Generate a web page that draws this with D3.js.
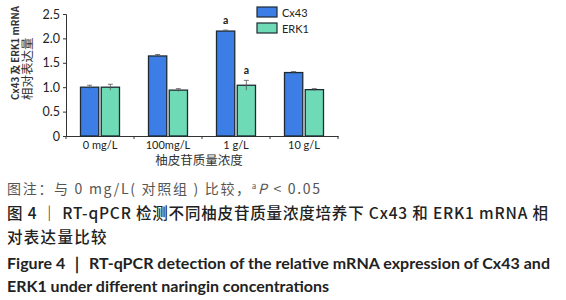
<!DOCTYPE html>
<html lang="zh">
<head>
<meta charset="UTF-8">
<title>Cx43 ERK1</title>
<script src="https://cdn.jsdelivr.net/npm/d3@7/dist/d3.min.js"></script>
<style>
  body { margin: 0; background: #fff; }
  svg { display: block; }
</style>
</head>
<body>
<svg width="566" height="300"></svg>
<script>
// 数据
const groups = ["0 mg/L", "100mg/L", "1 g/L", "10 g/L"];
const seriesNames = ["Cx43", "ERK1"];
const cx43 = [1.00, 1.64, 2.15, 1.30];
const cx43Err = [0.04, 0.03, 0.02, 0.02];
const erk1 = [1.00, 0.94, 1.04, 0.95];
const erk1Err = [0.06, 0.03, 0.10, 0.02];
const sigMarks = [["", ""], ["", ""], ["a", "a"], ["", ""]];
const yTicks = [0, 0.5, 1.0, 1.5, 2.0, 2.5];

const colors = ["#3d7ee6", "#6fdab6"];
const svg = d3.select("svg");
const margin = { left: 66, top: 14, right: 228, bottom: 164 };
const innerW = 566 - margin.left - margin.right;
const innerH = 300 - margin.top - margin.bottom;
const g = svg.append("g").attr("transform", "translate(" + margin.left + "," + margin.top + ")");

const x = d3.scaleBand().domain(groups).range([0, innerW]);
const xs = d3.scaleBand().domain(seriesNames).range([0, 39]).paddingInner(0.12);
const y = d3.scaleLinear().domain([0, 2.5]).range([innerH, 0]);

// 坐标轴
const yAxis = g.append("g")
  .call(d3.axisLeft(y).tickValues(yTicks).tickSize(3).tickPadding(3)
    .tickFormat(d => d === 0 ? "0" : d3.format(".1f")(d)));
yAxis.selectAll("text").attr("font-family", "Lato, sans-serif").attr("font-size", 12.5).attr("fill", "#222");
yAxis.select(".domain").attr("stroke", "#333");
yAxis.selectAll(".tick line").attr("stroke", "#333");

const xAxis = g.append("g").attr("transform", "translate(0," + innerH + ")")
  .call(d3.axisBottom(x).tickSize(0).tickPadding(5));
xAxis.select(".domain").attr("stroke", "#333");
xAxis.selectAll("text").attr("font-family", "Lato, sans-serif").attr("font-size", 11).attr("fill", "#222");
// 组间刻度
g.selectAll(".bTick").data(d3.range(groups.length + 1)).enter().append("line")
  .attr("x1", i => i * x.bandwidth()).attr("x2", i => i * x.bandwidth())
  .attr("y1", innerH).attr("y2", innerH + 3).attr("stroke", "#333");

// 柱子
const rows = groups.map((gr, i) => [
  { g: gr, s: "Cx43", v: cx43[i], e: cx43Err[i], m: sigMarks[i][0], c: 0 },
  { g: gr, s: "ERK1", v: erk1[i], e: erk1Err[i], m: sigMarks[i][1], c: 1 }
]).flat();
const bx = d => x(d.g) + (x.bandwidth() - 39) / 2 + xs(d.s);

g.selectAll(".bar").data(rows).enter().append("rect")
  .attr("x", bx).attr("y", d => y(d.v))
  .attr("width", xs.bandwidth()).attr("height", d => innerH - y(d.v))
  .attr("fill", d => colors[d.c]).attr("stroke", "#1d2a33").attr("stroke-width", 1.3);

// 误差线
const ctr = d => bx(d) + xs.bandwidth() / 2;
g.selectAll(".err").data(rows).enter().append("line")
  .attr("x1", ctr).attr("x2", ctr)
  .attr("y1", d => y(d.v + d.e)).attr("y2", d => y(d.v - d.e))
  .attr("stroke", "#555").attr("stroke-width", 0.8);
g.selectAll(".cap").data(rows).enter().append("line")
  .attr("x1", d => ctr(d) - 2.5).attr("x2", d => ctr(d) + 2.5)
  .attr("y1", d => y(d.v + d.e)).attr("y2", d => y(d.v + d.e))
  .attr("stroke", "#555").attr("stroke-width", 0.8);

// 显著性
g.selectAll(".sig").data(rows.filter(d => d.m)).enter().append("text")
  .attr("x", ctr).attr("y", d => y(d.v + d.e) - 6)
  .attr("text-anchor", "middle").attr("font-family", "Lato, sans-serif")
  .attr("font-size", 10.5).attr("font-weight", "bold").attr("fill", "#222")
  .text(d => d.m);

// 图例
const leg = svg.append("g").attr("transform", "translate(257,7)");
seriesNames.forEach((s, i) => {
  leg.append("rect").attr("x", 0).attr("y", i * 16).attr("width", 20).attr("height", 10)
    .attr("fill", colors[i]).attr("stroke", "#1d2a33").attr("stroke-width", 1.2);
  leg.append("text").attr("x", 25).attr("y", i * 16 + 9.5)
    .attr("font-family", "Lato, sans-serif").attr("font-size", 11).attr("fill", "#222").text(s);
});

// 轴标题
svg.append("text").attr("x", 199).attr("y", 165).attr("text-anchor", "middle")
  .attr("font-family", "'Noto Sans CJK SC', sans-serif").attr("font-size", 12.5).attr("fill", "#333")
  .text("柚皮苷质量浓度");
svg.append("text").attr("transform", "translate(19,100) rotate(-90)")
  .attr("font-family", "'Noto Sans CJK SC', sans-serif")
  .attr("font-size", 9.7).attr("font-weight", "bold").attr("fill", "#333")
  .text("Cx43 及 ERK1 mRNA");
svg.append("text").attr("transform", "translate(32,100) rotate(-90)")
  .attr("font-family", "'Noto Sans CJK SC', sans-serif")
  .attr("font-size", 12.5).attr("fill", "#333")
  .text("相对表达量");

// 图注
const cap = svg.append("g");
const t1 = cap.append("text").attr("x", 7).attr("y", 194).attr("fill", "#555")
  .attr("font-size", 14).attr("font-family", "'Noto Sans CJK SC', sans-serif")
  .attr("textLength", 313).attr("lengthAdjust", "spacing");
t1.append("tspan").text("图注：与 0 mg/L( 对照组 ) 比较，");
t1.append("tspan").attr("font-size", 8).attr("dy", -5).text("a");
t1.append("tspan").attr("font-style", "italic").attr("dy", 5).text("P");
t1.append("tspan").text(" < 0.05");
cap.append("text").attr("x", 7).attr("y", 219).attr("fill", "#222")
  .attr("font-family", "'Noto Sans CJK SC', sans-serif").attr("font-weight", 500).attr("font-size", 15.5)
  .attr("textLength", 541).attr("lengthAdjust", "spacing")
  .text("图 4 ｜ RT-qPCR 检测不同柚皮苷质量浓度培养下 Cx43 和 ERK1 mRNA 相");
cap.append("text").attr("x", 7).attr("y", 243).attr("fill", "#222")
  .attr("font-family", "'Noto Sans CJK SC', sans-serif").attr("font-weight", 500).attr("font-size", 15.5)
  .attr("letter-spacing", 1.3)
  .text("对表达量比较");
cap.append("text").attr("x", 7).attr("y", 269).attr("fill", "#222")
  .attr("font-family", "Lato, sans-serif").attr("font-weight", "bold").attr("font-size", 16)
  .attr("textLength", 543).attr("lengthAdjust", "spacing")
  .text("Figure 4 ｜ RT-qPCR detection of the relative mRNA expression of Cx43 and");
cap.append("text").attr("x", 7).attr("y", 292).attr("fill", "#222")
  .attr("font-family", "Lato, sans-serif").attr("font-weight", "bold").attr("font-size", 16)
  .text("ERK1 under different naringin concentrations");
</script>
</body>
</html>
